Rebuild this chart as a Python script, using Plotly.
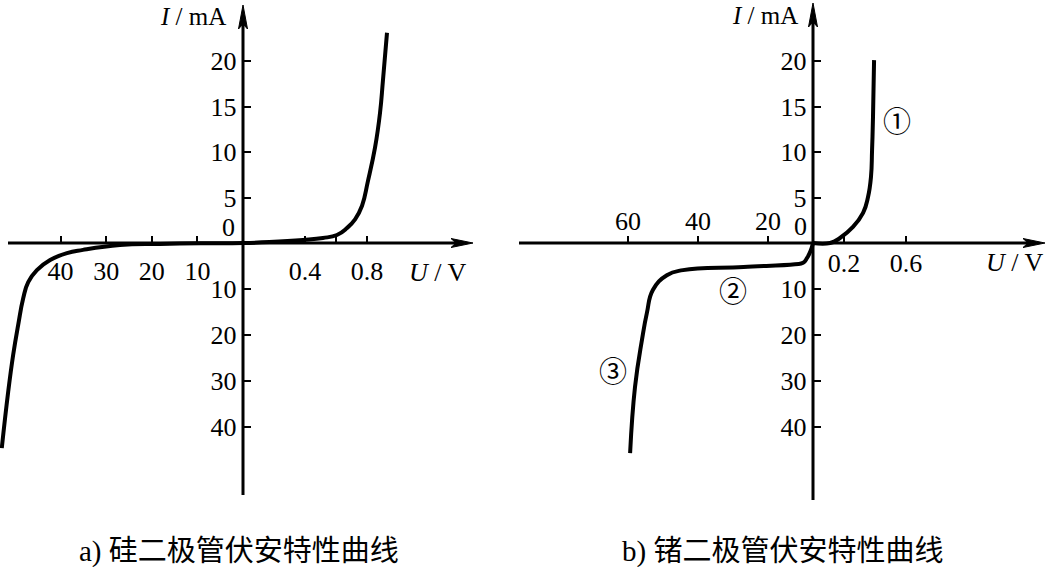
import numpy as np
import plotly.graph_objects as go

W, H = 1051, 567
SERIF = "Liberation Serif, Times New Roman, serif"
CJK = "Liberation Serif, Noto Sans CJK SC, serif"

# ---------------- data (real units: U in V, I in mA) ----------------
# a) silicon diode
si_u = [-52.9, -51.5, -50.4, -49.3, -48.2, -47.1, -45.2, -42.3, -38.6, -35.1, -27.0, -18.2, -9.4, 0,
        0.17, 0.387, 0.516, 0.606, 0.671, 0.723, 0.768, 0.806, 0.852, 0.884, 0.903, 0.929]
si_i = [-44.6, -32.4, -24.3, -17.8, -12.0, -8.5, -5.9, -3.7, -2.2, -1.5, -0.43, -0.2, -0.07, 0,
        0.1, 0.33, 0.55, 0.88, 1.65, 2.6, 4.1, 6.8, 10.5, 14.3, 17.9, 23.1]

# b) germanium diode
ge_rev_u = [-59.4, -58.0, -56.0, -54.6, -52.9, -48.9, -44.3, -27.0, -8.0, -4.4, -2.7, -1.5, -0.7, 0]
ge_rev_i = [-45.7, -31.3, -21.0, -15.2, -10.2, -7.0, -5.9, -5.2, -4.6, -4.3, -3.3, -2.2, -1.2, 0]
ge_fwd_u = [0, 0.11, 0.174, 0.258, 0.323, 0.355, 0.374, 0.381, 0.387, 0.394]
ge_fwd_i = [0, 0.0, 0.55, 1.76, 3.3, 5.05, 7.25, 10.2, 13.8, 20.1]

# tick values / labels
a_xtick_vals = [-40, -30, -20, -10, 0.4, 0.6, 0.8]
a_xtick_text = ["40", "30", "20", "10", "0.4", "", "0.8"]
b_xtick_neg_vals = [-60, -40, -20]
b_xtick_neg_text = ["60", "40", "20"]
b_xtick_pos_vals = [0.2, 0.6]
b_xtick_pos_text = ["0.2", "0.6"]
ytick_vals = [20, 15, 10, 5, -10, -20, -30, -40]
ytick_text = ["20", "15", "10", "5", "10", "20", "30", "40"]

captions = ["a) 硅二极管伏安特性曲线", "b) 锗二极管伏安特性曲线"]
circled = ["①", "②", "③"]


# ---------------- schematic (broken) scales: value -> px from origin ----------------
def sx_a(u):
    u = np.asarray(u, float)
    return np.where(u >= 0, 155.0 * u, 4.56 * u)


def sx_b(u):
    u = np.asarray(u, float)
    neg = -np.interp(-u, [0, 20, 40, 60, 80], [0, 45, 115, 185, 255])
    return np.where(u >= 0, 155.0 * u, neg)


def sy(i):
    i = np.asarray(i, float)
    return np.where(i >= 0, 9.1 * i, 4.6 * i)


# origins in page pixels
OXA, OXB, OY = 243, 813, 243


def fx(p):
    return p / W


def fy(p):
    return 1 - p / H


line_style = dict(color="black", width=4, shape="spline", smoothing=1.3)

fig = go.Figure()
fig.add_trace(go.Scatter(x=sx_a(si_u), y=sy(si_i), xaxis="x", yaxis="y", mode="lines",
                         line=line_style, hoverinfo="skip", showlegend=False))
fig.add_trace(go.Scatter(x=sx_b(ge_rev_u), y=sy(ge_rev_i), xaxis="x2", yaxis="y2", mode="lines",
                         line=line_style, hoverinfo="skip", showlegend=False))
fig.add_trace(go.Scatter(x=sx_b(ge_fwd_u), y=sy(ge_fwd_i), xaxis="x3", yaxis="y2", mode="lines",
                         line=line_style, hoverinfo="skip", showlegend=False))

FS = 26
tickfont = dict(family=SERIF, size=FS, color="black")
base = dict(showgrid=False, zeroline=False, showline=False, tickmode="array", ticklen=7,
            tickwidth=2, tickcolor="black", tickfont=tickfont, fixedrange=True, anchor="free")

yr = [-(H - OY), OY]
ytext = [t + "\u00a0" for t in ytick_text]  # small gap between label and axis

fig.update_layout(
    width=W, height=H, margin=dict(l=0, r=0, t=0, b=0),
    paper_bgcolor="white", plot_bgcolor="rgba(0,0,0,0)",
    xaxis=dict(base, domain=[0, fx(480)], range=[0 - OXA, 480 - OXA], position=fy(OY),
               side="bottom", ticks="inside", tickvals=sx_a(a_xtick_vals).tolist(),
               ticktext=a_xtick_text, ticklabelstandoff=10),
    yaxis=dict(base, domain=[0, 1], range=yr, position=fx(OXA), side="left", ticks="inside",
               tickvals=sy(ytick_vals).tolist(), ticktext=ytext),
    xaxis2=dict(base, domain=[fx(515), 1], range=[515 - OXB, W - OXB], position=fy(OY),
                side="top", ticks="outside", tickvals=sx_b(b_xtick_neg_vals).tolist(),
                ticktext=b_xtick_neg_text, ticklabelstandoff=-4),
    xaxis3=dict(base, overlaying="x2", range=[515 - OXB, W - OXB], position=fy(OY),
                side="bottom", ticks="inside", tickvals=sx_b(b_xtick_pos_vals).tolist(),
                ticktext=b_xtick_pos_text, ticklabelstandoff=2),
    yaxis2=dict(base, domain=[0, 1], range=yr, position=fx(OXB), side="left", ticks="inside",
                tickvals=sy(ytick_vals).tolist(), ticktext=ytext),
)

# axis lines + arrowheads (in px units of each subplot)
def axes_shapes(xref, yref, left, right_tip, bottom, top_tip):
    shp = []
    lw = 3
    shp.append(dict(type="line", xref=xref, yref=yref, x0=left, x1=right_tip - 10, y0=0, y1=0,
                    line=dict(color="black", width=lw)))
    shp.append(dict(type="line", xref=xref, yref=yref, x0=0, x1=0, y0=bottom, y1=top_tip - 10,
                    line=dict(color="black", width=lw)))
    t = right_tip
    shp.append(dict(type="path", xref=xref, yref=yref,
                    path=f"M {t},0 L {t-22},4.5 L {t-17},0 L {t-22},-4.5 Z",
                    fillcolor="black", line=dict(color="black", width=1)))
    t = top_tip
    shp.append(dict(type="path", xref=xref, yref=yref,
                    path=f"M 0,{t} L 4.5,{t-24} L 0,{t-19} L -4.5,{t-24} Z",
                    fillcolor="black", line=dict(color="black", width=1)))
    return shp


shapes = axes_shapes("x", "y", 8 - OXA, 473 - OXA, -(495 - OY), OY - 5)
shapes += axes_shapes("x2", "y2", 519 - OXB, 1045 - OXB, -(500 - OY), OY - 3)
fig.update_layout(shapes=shapes)


def ann(text, px, py, size=FS, family=SERIF):
    fig.add_annotation(text=text, x=fx(px), y=fy(py), xref="paper", yref="paper",
                       showarrow=False, xanchor="center", yanchor="middle",
                       font=dict(family=family, size=size, color="black"))


ann("0", 228, 227)
ann("0", 800, 226)
ann("<i>I</i> / mA", 193, 17, size=25)
ann("<i>I</i> / mA", 765, 15, size=25)
ann("<i>U</i> / V", 438, 273)
ann("<i>U</i> / V", 1015, 262)
ann(circled[0], 897, 122, size=28, family=CJK)
ann(circled[1], 733, 292, size=28, family=CJK)
ann(circled[2], 613, 372, size=28, family=CJK)
ann(captions[0], 239, 551, size=29, family=CJK)
ann(captions[1], 782, 551, size=29, family=CJK)

fig.write_html("out.html", config=dict(displayModeBar=False, staticPlot=True))
